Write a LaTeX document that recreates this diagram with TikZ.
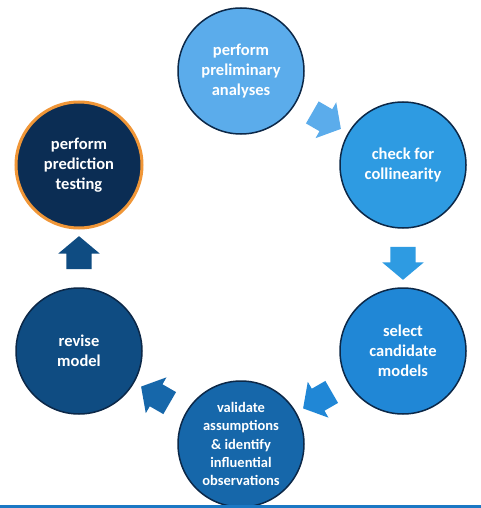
\documentclass[tikz,border=0pt]{standalone}
\usepackage{fontspec}
\setmainfont{Carlito}
\usetikzlibrary{shapes.arrows,calc}
\definecolor{cA}{RGB}{91,172,235}
\definecolor{cB}{RGB}{46,155,226}
\definecolor{cC}{RGB}{32,135,214}
\definecolor{cD}{RGB}{22,103,170}
\definecolor{cE}{RGB}{15,76,130}
\definecolor{cF}{RGB}{11,45,84}
\definecolor{rim}{RGB}{12,40,72}
\definecolor{ring}{RGB}{240,150,55}
\definecolor{bar}{RGB}{27,120,196}
\tikzset{
  stage/.style={circle, minimum size=126pt, inner sep=0pt, draw=rim, line width=1.5pt,
    text=white, align=center, font=\bfseries\fontsize{16.5}{20}\selectfont},
  blockarrow/.style={single arrow, draw=none, minimum height=33pt,
    text height=0pt, text depth=0pt, text width=0pt, inner xsep=0pt, inner ysep=12.5pt,
    single arrow head extend=8pt, single arrow tip angle=100},
}
\begin{document}
\begin{tikzpicture}[x=1pt,y=-1pt]
\useasboundingbox (0,0) rectangle (481,508);
\fill[white] (0,0) rectangle (481,508);
\node[stage, fill=cA] (n1) at (241,71) {perform\\preliminary\\analyses};
\node[stage, fill=cB] (n2) at (403,165) {check for\\collinearity};
\node[stage, fill=cC] (n3) at (403,351) {select\\candidate\\models};
\node[stage, fill=cD, font=\bfseries\fontsize{14.5}{18.3}\selectfont] (n4) at (241,444) {validate\\assumptions\\\& identify\\influential\\observations};
\node[stage, fill=cE] (n5) at (79,351) {revise\\model};
\node[stage, fill=cF, draw=ring, line width=3pt] (n6) at (79,165) {perform\\prediction\\testing};
\node[blockarrow, fill=cA, rotate=-30] (a1) at ($(n1)!0.5!(n2)$) {};
\node[blockarrow, fill=cB, rotate=-90] (a2) at ($(n2)!0.5!(n3)$) {};
\node[blockarrow, fill=cC, rotate=-150] (a3) at ($(n3)!0.5!(n4)$) {};
\node[blockarrow, fill=cD, rotate=150] (a4) at ($(n4)!0.5!(n5)$) {};
\node[blockarrow, fill=cE, rotate=90] (a5) at ($(n5)!0.5!(n6)$) {};
\fill[bar] (0,505) rectangle (481,508);
\end{tikzpicture}
\end{document}
